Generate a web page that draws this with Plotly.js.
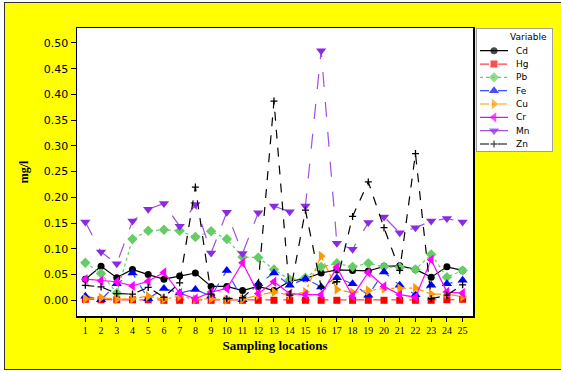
<!DOCTYPE html>
<html>
<head>
<meta charset="utf-8">
<script src="https://cdn.plot.ly/plotly-3.0.1.min.js"></script>
<style>
  html, body { margin: 0; padding: 0; background: #ffffff; width: 561px; height: 372px; overflow: hidden; }
  #frame { position: absolute; left: 4px; top: 2px; width: 557px; height: 366px;
           border-left: 1px solid #333; border-top: 1px solid #333; border-bottom: 1px solid #333;
           background: #ffff00; }
  #chart { position: absolute; left: 0; top: 0; width: 557px; height: 366px; }
</style>
</head>
<body>
<div id="frame"><div id="chart"></div></div>
<script>
const locations = [1,2,3,4,5,6,7,8,9,10,11,12,13,14,15,16,17,18,19,20,21,22,23,24,25];

const cd = [0.041,0.066,0.044,0.060,0.050,0.041,0.047,0.053,0.027,0.027,0.019,0.027,0.019,0.037,0.042,0.053,0.059,0.058,0.057,0.066,0.067,0.060,0.045,0.065,0.058];
const hg = [0.002,0.001,0.001,0.001,0.001,0.000,0.000,0.000,0.000,0.000,0.000,0.000,0.000,0.000,0.000,0.000,0.000,0.000,0.000,0.000,0.000,0.000,0.000,0.001,0.002];
const pb = [0.073,0.052,0.014,0.119,0.135,0.137,0.135,0.123,0.134,0.119,0.084,0.083,0.060,0.040,0.044,0.065,0.072,0.065,0.072,0.065,0.064,0.060,0.089,0.045,0.058];
const fe = [0.008,0.001,0.032,0.053,0.003,0.023,0.014,0.021,0.008,0.058,0.001,0.032,0.053,0.029,0.042,0.026,0.044,0.032,0.010,0.055,0.029,0.011,0.029,0.032,0.039];
const cu = [0.003,0.005,0.002,0.003,0.008,0.002,0.008,0.002,0.003,0.001,0.002,0.010,0.016,0.010,0.016,0.086,0.021,0.015,0.019,0.023,0.023,0.024,0.012,0.012,0.007];
const cr = [0.041,0.038,0.036,0.028,0.037,0.054,0.014,0.003,0.016,0.023,0.073,0.013,0.036,0.013,0.011,0.011,0.064,0.008,0.054,0.027,0.011,0.006,0.079,0.016,0.014];
const mn = [0.152,0.094,0.071,0.154,0.177,0.188,0.144,0.186,0.092,0.171,0.091,0.170,0.183,0.172,0.183,0.485,0.111,0.099,0.151,0.162,0.131,0.141,0.154,0.159,0.152];
const zn = [0.029,0.026,0.013,0.012,0.025,0.006,0.034,0.220,0.012,0.003,0.005,0.032,0.387,0.010,0.175,0.026,0.036,0.163,0.230,0.141,0.058,0.285,0.003,0.010,0.030];

const names = ['Cd','Hg','Pb','Fe','Cu','Cr','Mn','Zn'];
const seriesValues = [cd, hg, pb, fe, cu, cr, mn, zn];

// styles per series
const styles = [
  {lc:'#000000', mc:'#000000', dash:'solid',    sym:'circle',          size:7},
  {lc:'#ff4040', mc:'#ff0000', dash:'dash',     sym:'square',          size:7},
  {lc:'#66cc66', mc:'#66cc66', dash:'dot',      sym:'diamond',         size:8},
  {lc:'#3355ff', mc:'#0000ff', dash:'dash',     sym:'triangle-up',     size:9},
  {lc:'#ff9900', mc:'#ff9900', dash:'dashdot',  sym:'triangle-right',  size:9},
  {lc:'#ff00ff', mc:'#ff00ff', dash:'solid',    sym:'triangle-left',   size:9},
  {lc:'#a050e0', mc:'#8a2be2', dash:'longdash', sym:'triangle-down',   size:9},
  {lc:'#000000', mc:'#000000', dash:'dash',     sym:'cross-thin-open', size:5}
];

const data = [];
names.forEach((n, i) => {
  const s = styles[i];
  data.push({
    x: locations, y: seriesValues[i], name: n, type: 'scatter', mode: 'lines+markers',
    xaxis: 'x', yaxis: 'y', showlegend: false,
    line: {color: s.lc, dash: s.dash, width: 1.2},
    marker: {color: s.mc, symbol: s.sym, size: s.size,
             line: {color: s.mc, width: s.sym.indexOf('cross') === 0 ? 1.3 : 0}}
  });
});

// custom legend (pixel-like coordinates in a helper subplot)
const W = 557, H = 366, ML = 72, MR = 8, MT = 25, MB = 53;
const plotW = W - ML - MR, plotH = H - MT - MB;
const mainRight = 468;                       // div px of main plot right edge
const legL = 471, legR = 548, legT = 25.3, legB = 148.7;
const annotations = [];
const legItemY = i => 47.7 + 13.33 * i;
names.forEach((n, i) => {
  const s = styles[i];
  const y = legItemY(i);
  data.push({
    x: [475, 489, 503], y: [y, y, y], type: 'scatter', mode: 'lines+markers',
    xaxis: 'x2', yaxis: 'y2', showlegend: false, hoverinfo: 'skip',
    line: {color: s.lc, dash: s.dash === 'longdash' ? 'solid' : s.dash, width: 1.2},
    marker: {color: s.mc, symbol: s.sym, size: [0, s.size, 0],
             line: {color: s.mc, width: s.sym.indexOf('cross') === 0 ? 1.3 : 0}}
  });
  annotations.push({x: 509, y: y, xref: 'x2', yref: 'y2', text: n, showarrow: false,
    xanchor: 'left', yanchor: 'middle',
    font: {family: 'DejaVu Sans, Verdana, sans-serif', size: 9, color: '#000'}});
});
annotations.push({x: 544, y: 34.3, xref: 'x2', yref: 'y2', text: 'Variable', showarrow: false,
  xanchor: 'right', yanchor: 'middle',
  font: {family: 'DejaVu Sans, Verdana, sans-serif', size: 9, color: '#000'}});

const layout = {
  width: W, height: H,
  paper_bgcolor: '#ffff00', plot_bgcolor: '#ffffff',
  margin: {l: ML, r: MR, t: MT, b: MB},
  showlegend: false,
  xaxis: {
    domain: [0, (mainRight - ML) / plotW],
    range: [0.47, 25.66], tickmode: 'array', tickvals: locations, ticktext: locations.map(String),
    ticks: 'outside', ticklen: 4, tickcolor: '#000', showgrid: false, zeroline: false,
    showline: true, linecolor: '#000', linewidth: 1.5, mirror: true,
    tickfont: {family: 'Liberation Serif, Times New Roman, serif', size: 10, color: '#000'},
    title: {text: '<b>Sampling locations</b>', standoff: 6,
            font: {family: 'Liberation Serif, Times New Roman, serif', size: 13, color: '#000'}}
  },
  yaxis: {
    range: [-0.0305, 0.529], tickmode: 'array',
    tickvals: [0,0.05,0.10,0.15,0.20,0.25,0.30,0.35,0.40,0.45,0.50],
    ticktext: ['0.00','0.05','0.10','0.15','0.20','0.25','0.30','0.35','0.40','0.45','0.50'],
    ticks: 'outside', ticklen: 5, tickcolor: '#000', showgrid: false, zeroline: false,
    showline: true, linecolor: '#000', linewidth: 1.5, mirror: true,
    tickfont: {family: 'DejaVu Sans, Verdana, sans-serif', size: 11, color: '#000'},
    title: {text: '<b>mg/l</b>', standoff: 12,
            font: {family: 'Liberation Serif, Times New Roman, serif', size: 12, color: '#000'}}
  },
  xaxis2: {
    domain: [(legL - ML) / plotW, (legR - ML) / plotW], range: [legL, legR],
    visible: false, fixedrange: true, anchor: 'y2'
  },
  yaxis2: {
    domain: [(H - MB - legB) / plotH, (H - MB - legT) / plotH], range: [legB, legT],
    visible: false, fixedrange: true, anchor: 'x2'
  },
  shapes: [{type: 'rect', xref: 'x2', yref: 'y2', x0: legL, x1: legR, y0: legT, y1: legB,
            line: {color: '#808080', width: 1.5}, fillcolor: 'rgba(0,0,0,0)', layer: 'above'}],
  annotations: annotations
};

Plotly.newPlot('chart', data, layout, {staticPlot: true, displayModeBar: false});
</script>
</body>
</html>
